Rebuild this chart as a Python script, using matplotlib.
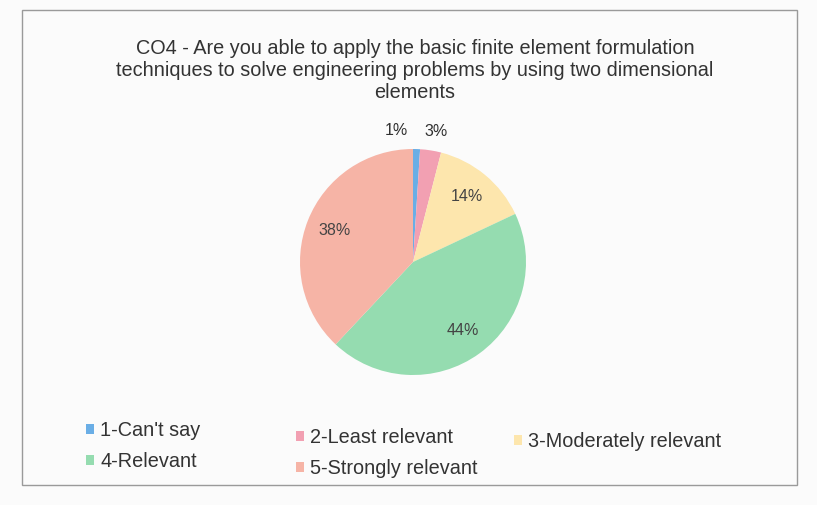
import matplotlib.pyplot as plt
import numpy as np
from matplotlib.patches import Rectangle

plt.rcParams['font.family'] = ['Liberation Sans', 'DejaVu Sans']

labels = ['1-Can\'t say', '2-Least relevant', '3-Moderately relevant',
          '4-Relevant', '5-Strongly relevant']
values = [1, 3, 14, 44, 38]
colors = ['#6aaee6', '#f2a0b2', '#fde6ad', '#95dcb0', '#f6b4a6']

title = ('CO4 - Are you able to apply the basic finite element formulation\n'
         'techniques to solve engineering problems by using two dimensional\n'
         'elements')

fig = plt.figure(figsize=(8.17, 5.05), dpi=100)
fig.patch.set_facecolor('#fbfbfb')
fig.patches.append(Rectangle((22 / 817, 1 - 485 / 505), 775 / 817, 475 / 505,
                             transform=fig.transFigure, fill=False,
                             edgecolor='#9a9a9a', lw=1.0))

# pie centre ~ (413, 262) px, radius ~ 113 px
ax = fig.add_axes([300 / 817, 1 - 375 / 505, 226 / 817, 226 / 505])
wedges, texts, autotexts = ax.pie(values, colors=colors, startangle=90,
                                  counterclock=False, autopct='%1.0f%%',
                                  pctdistance=0.75,
                                  textprops={'fontsize': 11.5, 'color': '#444444'})
ax.set_xlim(-1, 1)
ax.set_ylim(-1, 1)
ax.set_aspect('equal')

# small slices: labels outside, above the pie
for i, shift in [(0, 9), (1, -1)]:
    w = wedges[i]
    ang = np.deg2rad((w.theta1 + w.theta2) / 2 + shift)
    autotexts[i].set_position((1.17 * np.cos(ang), 1.17 * np.sin(ang)))
    autotexts[i].set_color('#303030')

fig.text(415 / 817, 1 - 70 / 505, title, ha='center', va='center',
         fontsize=14.3, color='#333333', linespacing=1.2)

# legend laid out row-wise in three columns
columns = [([0, 3], 86, 421), ([1, 4], 296, 428), ([2], 514, 432)]
for idx, x0, y0 in columns:
    leg = fig.legend([wedges[i] for i in idx], [labels[i] for i in idx],
                     loc='upper left', bbox_to_anchor=(x0 / 817, 1 - y0 / 505),
                     frameon=False, fontsize=14.3, handlelength=0.42,
                     handleheight=0.42, handletextpad=0.3, labelspacing=0.62,
                     borderpad=0, borderaxespad=0)
    for t in leg.get_texts():
        t.set_color('#333333')

plt.savefig('out.png', dpi=100, facecolor=fig.get_facecolor())
